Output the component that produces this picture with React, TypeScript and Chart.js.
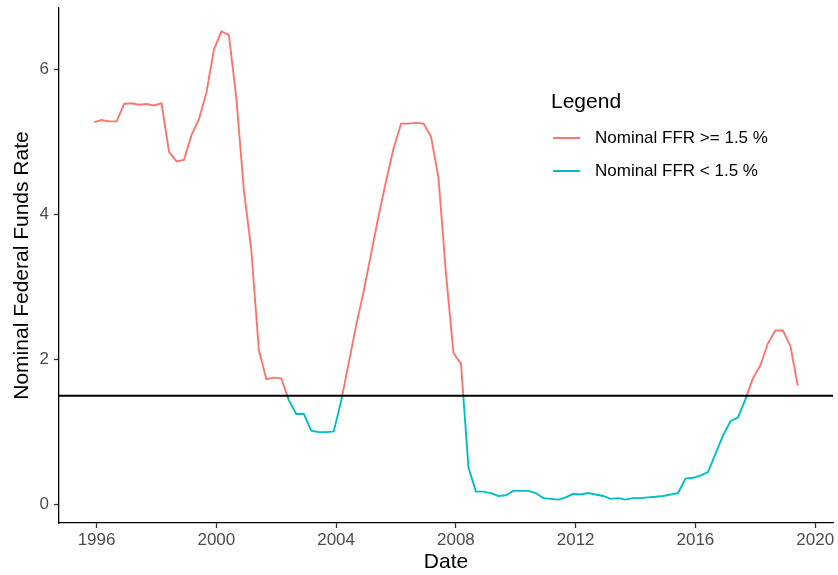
import { useEffect, useRef } from 'react';
import { Chart, registerables, Plugin } from 'chart.js';

Chart.register(...registerables);

// quarterly nominal federal funds rate, first observation sits just before 1996
const START_YEAR = 1995.92;
const FFR = [
  5.27, 5.3, 5.28,
  5.28, 5.52, 5.53, 5.51,
  5.52, 5.5, 5.53, 4.86,
  4.73, 4.75, 5.09, 5.31,
  5.68, 6.27, 6.52, 6.47,
  5.59, 4.33, 3.5, 2.13,
  1.73, 1.75, 1.74, 1.44,
  1.25, 1.25, 1.02, 1.0,
  1.0, 1.01, 1.43, 1.95,
  2.47, 2.94, 3.46, 3.98,
  4.46, 4.91, 5.25, 5.25,
  5.26, 5.25, 5.07, 4.5,
  3.18, 2.09, 1.94, 0.51,
  0.18, 0.18, 0.16, 0.12,
  0.13, 0.19, 0.19, 0.19,
  0.16, 0.09, 0.08, 0.07,
  0.1, 0.15, 0.14, 0.16,
  0.14, 0.12, 0.08, 0.09,
  0.07, 0.09, 0.09, 0.1,
  0.11, 0.12, 0.14, 0.16,
  0.36, 0.37, 0.4, 0.45,
  0.7, 0.95, 1.15, 1.2,
  1.45, 1.74, 1.92, 2.22,
  2.4, 2.4, 2.19, 1.64,
];
const THRESHOLD = 1.5;
const X_TICKS = [1996, 2000, 2004, 2008, 2012, 2016, 2020];
const Y_TICKS = [0, 2, 4, 6];
const LEGEND_LABELS = ['Nominal FFR >= 1.5 %', 'Nominal FFR < 1.5 %'];

const RED = '#F8766D';
const TEAL = '#00BFC4';
const FONT = '"Liberation Sans", Arial, Helvetica, sans-serif';

// ggplot-style 5% expansion of the data range
function expand(min: number, max: number) {
  const pad = (max - min) * 0.05;
  return [min - pad, max + pad];
}

const thresholdLine: Plugin = {
  id: 'thresholdLine',
  afterDatasetsDraw(chart) {
    const { ctx, chartArea, scales } = chart;
    const y = scales.y.getPixelForValue(THRESHOLD);
    ctx.save();
    ctx.strokeStyle = '#000';
    ctx.lineWidth = 1.9;
    ctx.beginPath();
    ctx.moveTo(chartArea.left, y);
    ctx.lineTo(chartArea.right, y);
    ctx.stroke();
    ctx.restore();
  },
};

export default function App() {
  const chartRef = useRef<HTMLCanvasElement>(null);

  useEffect(() => {
    if (!chartRef.current) return;
    const points = FFR.map((v, i) => ({ x: START_YEAR + i / 4, y: v }));
    const [xMin, xMax] = expand(points[0].x, points[points.length - 1].x);
    const [yMin, yMax] = expand(Math.min(...FFR), Math.max(...FFR));

    const chart = new Chart(chartRef.current, {
      type: 'line',
      data: {
        datasets: [
          {
            data: points,
            borderWidth: 1.9,
            pointRadius: 0,
            tension: 0,
            borderColor: (c: any) => {
              const { chartArea, scales, ctx } = c.chart;
              if (!chartArea) return RED;
              const yPix = scales.y.getPixelForValue(THRESHOLD);
              const stop = (yPix - chartArea.top) / (chartArea.bottom - chartArea.top);
              const g = ctx.createLinearGradient(0, chartArea.top, 0, chartArea.bottom);
              g.addColorStop(0, RED);
              g.addColorStop(stop, RED);
              g.addColorStop(stop, TEAL);
              g.addColorStop(1, TEAL);
              return g;
            },
          },
        ],
      },
      options: {
        responsive: false,
        animation: false,
        layout: { padding: { left: 0, top: 8, right: 5, bottom: 0 } },
        plugins: { legend: { display: false }, tooltip: { enabled: false } },
        scales: {
          x: {
            type: 'linear',
            min: xMin,
            max: xMax,
            afterBuildTicks: (s) => {
              s.ticks = X_TICKS.map((v) => ({ value: v }));
            },
            afterFit: (s: any) => {
              s.height = 52;
              s.paddingLeft = 0;
              s.paddingRight = 0;
            },
            grid: { drawOnChartArea: false, drawTicks: true, tickLength: 5, tickColor: '#333', tickWidth: 1.3 },
            border: { color: '#000', width: 1.3 },
            ticks: {
              color: '#4D4D4D',
              font: { family: FONT, size: 17 },
              padding: 2,
              maxRotation: 0,
              callback: (v) => String(v),
            },
            title: {
              display: true,
              text: 'Date',
              color: '#000',
              font: { family: FONT, size: 21 },
              padding: { top: 0, bottom: 0 },
            },
          },
          y: {
            type: 'linear',
            min: yMin,
            max: yMax,
            afterBuildTicks: (s) => {
              s.ticks = Y_TICKS.map((v) => ({ value: v }));
            },
            afterFit: (s: any) => {
              s.width = 59;
              s.paddingTop = 0;
              s.paddingBottom = 0;
            },
            grid: { drawOnChartArea: false, drawTicks: true, tickLength: 5, tickColor: '#333', tickWidth: 1.3 },
            border: { color: '#000', width: 1.3 },
            ticks: {
              color: '#4D4D4D',
              font: { family: FONT, size: 17 },
              padding: 5,
              callback: (v) => String(v),
            },
            title: {
              display: true,
              text: 'Nominal Federal Funds Rate',
              color: '#000',
              font: { family: FONT, size: 21 },
              padding: { top: 10, bottom: 0 },
            },
          },
        },
      },
      plugins: [thresholdLine],
    });

    return () => {
      chart.destroy();
    };
  }, []);

  const keyColors = [RED, TEAL];

  return (
    <div style={{ position: 'absolute', left: 0, top: 0, width: 838, height: 575, background: '#fff', fontFamily: FONT }}>
      <canvas ref={chartRef} width={838} height={575} />
      <div style={{ position: 'absolute', left: 551, top: 88, fontSize: 21, lineHeight: '26px', color: '#000' }}>
        Legend
      </div>
      {LEGEND_LABELS.map((label, i) => (
        <div key={label} style={{ position: 'absolute', left: 553, top: 125 + i * 33, height: 26, display: 'flex', alignItems: 'center' }}>
          <div style={{ width: 27, height: 2, background: keyColors[i] }} />
          <span style={{ marginLeft: 15, fontSize: 17, color: '#000' }}>{label}</span>
        </div>
      ))}
    </div>
  );
}
